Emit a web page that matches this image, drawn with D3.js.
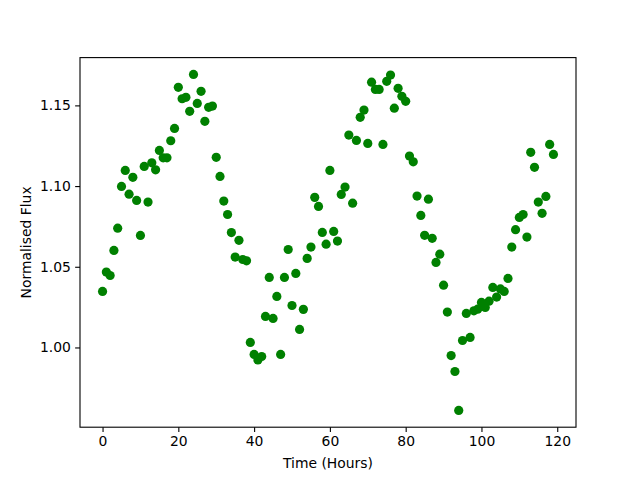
<!DOCTYPE html>
<html>
<head>
<meta charset="utf-8">
<script src="https://cdn.jsdelivr.net/npm/d3@7"></script>
<style>
  html, body { margin: 0; padding: 0; background: #fff; }
  svg { display: block; }
  text { font-family: "DejaVu Sans", sans-serif; fill: #000; }
</style>
</head>
<body>
<div id="chart"></div>
<script>
// Time in hours (one reading per hour)
const hours = d3.range(0, 120);
// Normalised flux values
const flux = [
  1.0347, 1.0467, 1.0446, 1.0601, 1.0739, 1.0998, 1.1097, 1.0950, 1.1054, 1.0911,
  1.0694, 1.1122, 1.0901, 1.1144, 1.1101, 1.1221, 1.1175, 1.1175, 1.1281, 1.1357,
  1.1612, 1.1541, 1.1550, 1.1463, 1.1692, 1.1512, 1.1587, 1.1401, 1.1488, 1.1496,
  1.1178, 1.1060, 1.0907, 1.0824, 1.0712, 1.0560, 1.0664, 1.0545, 1.0537, 1.0031,
  0.9957, 0.9923, 0.9944, 1.0192, 1.0434, 1.0180, 1.0316, 0.9957, 1.0434, 1.0607,
  1.0260, 1.0459, 1.0112, 1.0236, 1.0552, 1.0622, 1.0930, 1.0874, 1.0713, 1.0640,
  1.1097, 1.0719, 1.0659, 1.0948, 1.0994, 1.1316, 1.0894, 1.1283, 1.1426, 1.1471,
  1.1264, 1.1644, 1.1599, 1.1599, 1.1258, 1.1649, 1.1688, 1.1483, 1.1606, 1.1556,
  1.1525, 1.1186, 1.1150, 1.0938, 1.0818, 1.0695, 1.0919, 1.0676, 1.0527, 1.0578,
  1.0386, 1.0219, 0.9950, 0.9851, 0.9610, 1.0043, 1.0211, 1.0062, 1.0227, 1.0237,
  1.0279, 1.0248, 1.0287, 1.0372, 1.0312, 1.0363, 1.0347, 1.0428, 1.0622, 1.0730,
  1.0806, 1.0824, 1.0684, 1.1209, 1.1116, 1.0901, 1.0831, 1.0936, 1.1258, 1.1196
];
const xTicks = [0, 20, 40, 60, 80, 100, 120];
const yTicks = [1.00, 1.05, 1.10, 1.15];
const xLabel = "Time (Hours)";
const yLabel = "Normalised Flux";

const W = 640, H = 480;
const mLeft = 80, mRight = 576, mTop = 57.6, mBottom = 427.2;

function padded(ext) {
  const r = ext[1] - ext[0];
  return [ext[0] - 0.05 * r, ext[1] + 0.05 * r];
}

const x = d3.scaleLinear().domain(padded(d3.extent(hours))).range([mLeft, mRight]);
const y = d3.scaleLinear().domain(padded(d3.extent(flux))).range([mBottom, mTop]);

const svg = d3.select("#chart").append("svg")
  .attr("width", W).attr("height", H);

svg.append("rect").attr("width", W).attr("height", H).attr("fill", "#fff");

// points
svg.append("g").selectAll("circle")
  .data(hours.map((h, i) => ({h, f: flux[i]})))
  .join("circle")
  .attr("cx", d => x(d.h))
  .attr("cy", d => y(d.f))
  .attr("r", 4.6)
  .attr("fill", "#008000");

// axes
const xAxis = d3.axisBottom(x).tickValues(xTicks).tickFormat(d3.format("d"))
  .tickSize(4.86).tickPadding(4.2);
const yAxis = d3.axisLeft(y).tickValues(yTicks).tickFormat(d3.format(".2f"))
  .tickSize(4.86).tickPadding(4.2);

const gx = svg.append("g").attr("transform", `translate(0,${mBottom})`).call(xAxis);
const gy = svg.append("g").attr("transform", `translate(${mLeft},0)`).call(yAxis);

[gx, gy].forEach(g => {
  g.select(".domain").remove();
  g.selectAll(".tick line").attr("stroke", "#000").attr("stroke-width", 1.1);
  g.selectAll(".tick text").attr("font-size", "13.9px")
    .attr("font-family", "DejaVu Sans, sans-serif").attr("fill", "#000");
});

// frame
svg.append("rect")
  .attr("x", mLeft).attr("y", mTop)
  .attr("width", mRight - mLeft).attr("height", mBottom - mTop)
  .attr("fill", "none").attr("stroke", "#000").attr("stroke-width", 1.1);

// axis labels
svg.append("text")
  .attr("x", (mLeft + mRight) / 2).attr("y", 467.5)
  .attr("text-anchor", "middle").attr("font-size", "13.9px")
  .text(xLabel);

svg.append("text")
  .attr("transform", `translate(31,${(mTop + mBottom) / 2}) rotate(-90)`)
  .attr("text-anchor", "middle").attr("font-size", "13.9px")
  .text(yLabel);
</script>
</body>
</html>
